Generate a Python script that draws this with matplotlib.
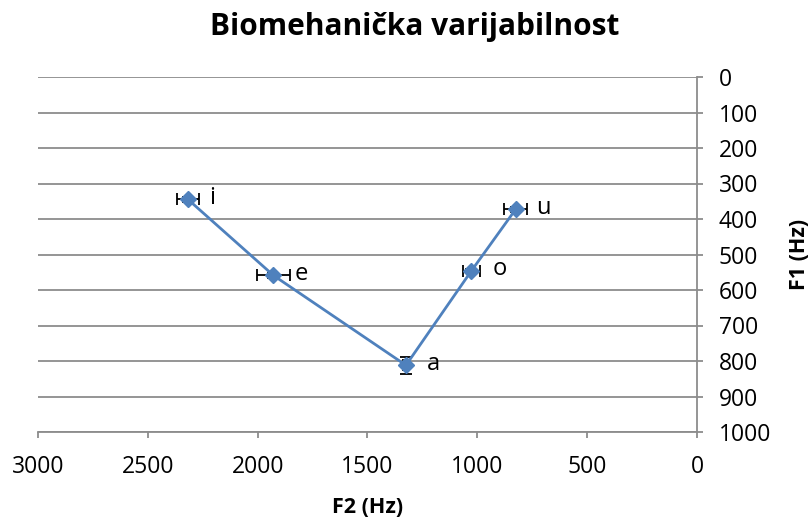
import matplotlib
matplotlib.use("Agg")
import matplotlib.pyplot as plt

vowels = ["i", "e", "a", "o", "u"]
f2 = [2317, 1928, 1325, 1027, 826]
f1 = [345, 559, 812, 546, 373]
f2_err = [50, 75, 12, 39, 52]
f1_err = [6, 6, 24, 6, 6]
xticks = [3000, 2500, 2000, 1500, 1000, 500, 0]
yticks = [0, 100, 200, 300, 400, 500, 600, 700, 800, 900, 1000]

plt.rcParams['font.family'] = ['Open Sans', 'DejaVu Sans']
fig = plt.figure(figsize=(8.12, 5.2), dpi=100)
ax = fig.add_axes([38/812, 1-432/520, (697-38)/812, (432-77)/520])

grey = "#8c8c8c"
blue = "#4f81bd"

ax.errorbar(f2, f1, xerr=f2_err, yerr=f1_err, fmt='none', ecolor='black',
            elinewidth=1.3, capsize=4.5, capthick=1.3, zorder=2)
ax.plot(f2, f1, color=blue, lw=2, marker='D', markersize=8.5, zorder=3)
for v, x, y in zip(vowels, f2, f1):
    ax.annotate(v, (x, y), xytext=(15, 1), textcoords='offset points',
                fontsize=17, va='center', ha='left')

ax.set_xlim(3000, 0)
ax.set_ylim(1000, 0)
ax.set_xticks(xticks)
ax.set_yticks(yticks)
ax.yaxis.tick_right()
ax.yaxis.set_label_position('right')
ax.grid(axis='y', color=grey, lw=1.3)
ax.set_axisbelow(True)
for s in ['left', 'top']:
    ax.spines[s].set_visible(False)
for s in ['right', 'bottom']:
    ax.spines[s].set_color(grey)
    ax.spines[s].set_linewidth(1.3)
ax.tick_params(colors=grey, labelcolor='black', labelsize=16.5, width=1.3, length=4.5)
ax.tick_params(axis='y', pad=11)
ax.tick_params(axis='x', pad=12)

ax.set_xlabel("F2 (Hz)", fontsize=15.5, fontweight='bold', labelpad=13)
ax.set_ylabel("F1 (Hz)", fontsize=15.5, fontweight='bold', labelpad=13)
fig.text(415/812, 1-27/520, "Biomehanička varijabilnost", fontsize=21.5,
         fontweight='bold', ha='center', va='center')

fig.savefig("out.png", dpi=100)
